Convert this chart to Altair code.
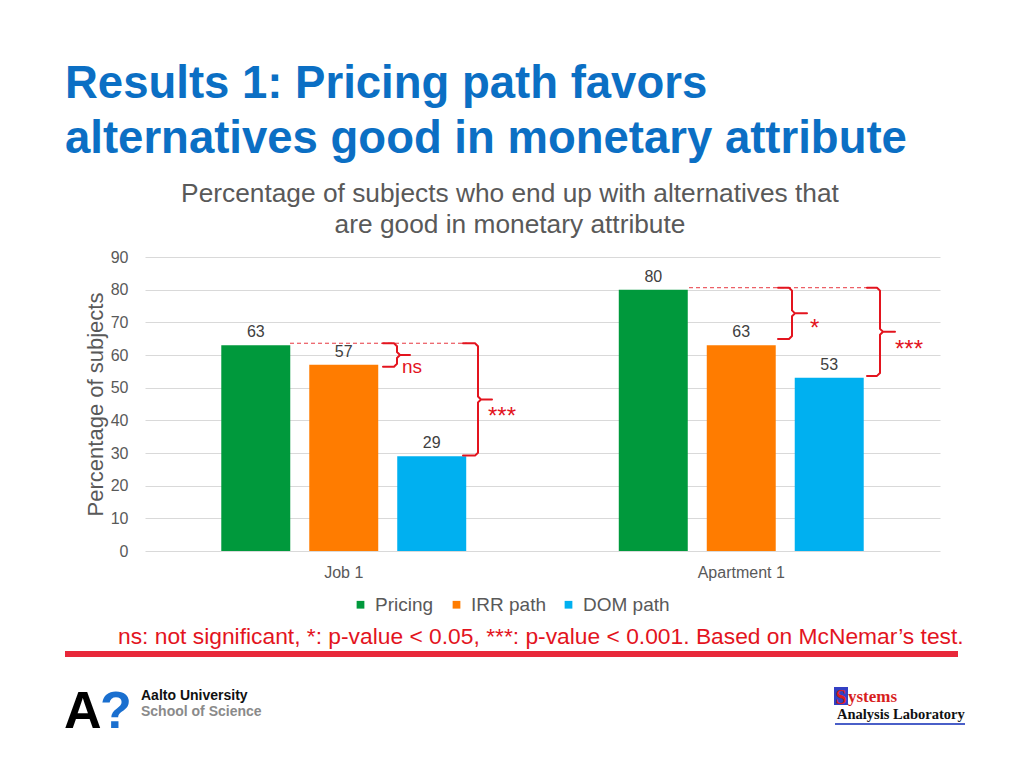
import altair as alt
import pandas as pd

# ---------------- data ----------------
categories = ["Job 1", "Apartment 1"]
series = ["Pricing", "IRR path", "DOM path"]
pricing_values = [63, 80]
irr_values = [57, 63]
dom_values = [29, 53]
series_colors = ["#00993C", "#FF7C00", "#00B0F0"]
y_ticks = [0, 10, 20, 30, 40, 50, 60, 70, 80, 90]

title_lines = ["Results 1: Pricing path favors", "alternatives good in monetary attribute"]
subtitle_lines = ["Percentage of subjects who end up with alternatives that",
                  "are good in monetary attribute"]
y_title = "Percentage of subjects"
footnote = "ns: not significant, *: p-value < 0.05, ***: p-value < 0.001. Based on McNemar\u2019s test."

# significance brackets (y in data units, x in plot pixels)
bracket_labels = ["ns", "***", "*", "***"]
bracket_top = [63.6, 63.6, 80.6, 80.6]
bracket_bottom = [56.4, 29.2, 64.9, 53.6]
bracket_start = [238, 318, 633, 722]
bracket_spine = [252, 333, 647, 735]
bracket_tip = [265, 347, 662, 750]
label_x = [257, 343, 665, 750]
label_y = [56.6, 43.2, 70.1, 63.7]
dash_start = [145, 544]
dash_end = [322, 726]
dash_value = [63.6, 80.6]

RED = "#E3141E"
GRAY = "#595959"

# ---------------- tables ----------------
rows = []
for i, c in enumerate(categories):
    for s, vals in zip(series, [pricing_values, irr_values, dom_values]):
        rows.append({"category": c, "series": s, "value": vals[i]})
df = pd.DataFrame(rows)

brace_rows = []
for b in range(len(bracket_labels)):
    x0, xv, xt = bracket_start[b], bracket_spine[b], bracket_tip[b]
    top, bot = bracket_top[b], bracket_bottom[b]
    mid = (top + bot) / 2
    r, h = 0.9, 3
    pts = [(x0, top), (xv - h, top), (xv, top - r), (xv, mid + r), (xv + h, mid),
           (xt, mid), (xv + h, mid), (xv, mid - r), (xv, bot + r), (xv - h, bot), (x0, bot)]
    for k, (px, val) in enumerate(pts):
        brace_rows.append({"brace": b, "step": k, "px": px, "value": val})
braces_df = pd.DataFrame(brace_rows)
dash_df = pd.DataFrame({"px": dash_start, "px2": dash_end, "value": dash_value})
labels_df = pd.DataFrame({"px": label_x, "value": label_y, "label": bracket_labels})

one = pd.DataFrame({"k": [0]})

yscale = alt.Scale(domain=[0, 90], nice=False)
xscale = alt.Scale(domain=categories, paddingInner=0.336, paddingOuter=0.168)
xoff = alt.Scale(domain=series, paddingInner=0.216, paddingOuter=0.108)

yaxis = alt.Axis(values=y_ticks, tickCount=10, labelOverlap=False, labelFontSize=16,
                 labelColor=GRAY, labelPadding=17, ticks=False, domain=False,
                 gridColor="#D9D9D9", gridWidth=1, title=y_title, titleFontSize=22,
                 titleFontWeight="normal", titleColor=GRAY, titleX=-50, titleY=147,
                 titleAngle=270, titleAlign="center", titleBaseline="middle")
xaxis = alt.Axis(title=None, labelAngle=0, labelFontSize=16, labelColor=GRAY,
                 labelPadding=13, ticks=False, domain=False, grid=False)

# ---------------- bars ----------------
bars = alt.Chart(df).mark_bar().encode(
    x=alt.X("category:N", sort=categories, scale=xscale, axis=xaxis),
    xOffset=alt.XOffset("series:N", sort=series, scale=xoff),
    y=alt.Y("value:Q", scale=yscale, axis=yaxis),
    color=alt.Color("series:N", scale=alt.Scale(domain=series, range=series_colors),
                    legend=alt.Legend(orient="none", legendX=206, legendY=338,
                                      direction="horizontal", title=None,
                                      symbolType="square", symbolSize=60,
                                      symbolStrokeWidth=0, labelFontSize=19,
                                      labelColor=GRAY, columnPadding=13, labelOffset=5,
                                      padding=0)),
)

values = alt.Chart(df).mark_text(baseline="alphabetic", dy=-8, fontSize=16,
                                 color="#404040").encode(
    x=alt.X("category:N", sort=categories, scale=xscale, axis=xaxis),
    xOffset=alt.XOffset("series:N", sort=series, scale=xoff),
    y=alt.Y("value:Q", scale=yscale, axis=yaxis),
    text=alt.Text("value:Q"),
)

data_layer = alt.layer(bars, values)

# ---------------- significance annotations ----------------
pxs = alt.Scale(domain=[0, 795], nice=False, zero=False)
ys2 = alt.Scale(domain=[0, 90], nice=False, zero=False)
dashes = alt.Chart(dash_df).mark_rule(color=RED, strokeDash=[4, 3], strokeWidth=1,
                                      opacity=0.85).encode(
    x=alt.X("px:Q", scale=pxs, axis=None), x2="px2:Q",
    y=alt.Y("value:Q", scale=ys2, axis=None))
braces = alt.Chart(braces_df).mark_line(color=RED, strokeWidth=2, strokeJoin="round",
                                        strokeCap="round").encode(
    x=alt.X("px:Q", scale=pxs, axis=None),
    y=alt.Y("value:Q", scale=ys2, axis=None),
    detail="brace:N", order="step:Q")
ns_text = alt.Chart(labels_df).transform_filter(alt.datum.label == "ns").mark_text(
    color=RED, fontSize=19, align="left", baseline="alphabetic", dy=7).encode(
    x=alt.X("px:Q", scale=pxs, axis=None), y=alt.Y("value:Q", scale=ys2, axis=None),
    text="label:N")
star_text = alt.Chart(labels_df).transform_filter(alt.datum.label != "ns").mark_text(
    color=RED, fontSize=24, align="left", baseline="alphabetic", dy=14).encode(
    x=alt.X("px:Q", scale=pxs, axis=None), y=alt.Y("value:Q", scale=ys2, axis=None),
    text="label:N")
annot_layer = alt.layer(dashes, braces, ns_text, star_text)


# ---------------- slide decorations ----------------
def txt(t, x, y, **kw):
    return alt.Chart(one).mark_text(text=t, **kw).encode(x=alt.value(x), y=alt.value(y))


TITLE_BLUE = "#0B6FC4"
deco = [
    txt(title_lines[0], -80, -159, fontSize=45.5, fontWeight="bold", color=TITLE_BLUE,
        align="left", baseline="alphabetic"),
    txt(title_lines[1], -80, -104, fontSize=45.5, fontWeight="bold", color=TITLE_BLUE,
        align="left", baseline="alphabetic"),
    txt(subtitle_lines[0], 365, -55, fontSize=26.3, color=GRAY, align="center",
        baseline="alphabetic"),
    txt(subtitle_lines[1], 365, -24, fontSize=26.3, color=GRAY, align="center",
        baseline="alphabetic"),
    txt(footnote, -27, 387, fontSize=22.8, color=RED, align="left", baseline="alphabetic"),
    alt.Chart(one).mark_rule(color="#E8283A", strokeWidth=6).encode(
        x=alt.value(-80), x2=alt.value(813), y=alt.value(397)),
    # Aalto logo
    txt("A", -81, 471, fontSize=52, fontWeight="bold", color="#000000", align="left",
        baseline="alphabetic"),
    txt("?", -45, 471, fontSize=52, fontWeight="bold", color="#1A6FCF", align="left",
        baseline="alphabetic"),
    txt("Aalto University", -4, 443, fontSize=14, fontWeight="bold", color="#111111",
        align="left", baseline="alphabetic"),
    txt("School of Science", -4, 459, fontSize=14, fontWeight="bold", color="#8A8A8A",
        align="left", baseline="alphabetic"),
    # Systems Analysis Laboratory logo
    alt.Chart(one).mark_rect(color="#3340C4").encode(
        x=alt.value(689), x2=alt.value(703), y=alt.value(430), y2=alt.value(448)),
    txt("S", 696, 447, fontSize=20, fontWeight="bold", color="#D81E1E", align="center",
        baseline="alphabetic", font="Liberation Serif"),
    txt("ystems", 703, 445, fontSize=17, fontWeight="bold", color="#D81E1E", align="left",
        baseline="alphabetic", font="Liberation Serif"),
    txt("Analysis Laboratory", 692, 462, fontSize=14.5, fontWeight="bold", color="#111111",
        align="left", baseline="alphabetic", font="Liberation Serif"),
    alt.Chart(one).mark_rule(color="#4A5FC8", strokeWidth=2).encode(
        x=alt.value(690), x2=alt.value(820), y=alt.value(467)),
]

chart = alt.layer(data_layer, annot_layer, *deco).resolve_scale(
    x="independent", y="independent").properties(
    width=795, height=294,
    padding={"left": 137, "top": 249, "right": 70, "bottom": 200},
    autosize=alt.AutoSizeParams(type="none"),
    background="white",
).configure(font="Liberation Sans").configure_view(stroke=None)

chart.save("out.html", embed_options={"renderer": "svg", "actions": False})
